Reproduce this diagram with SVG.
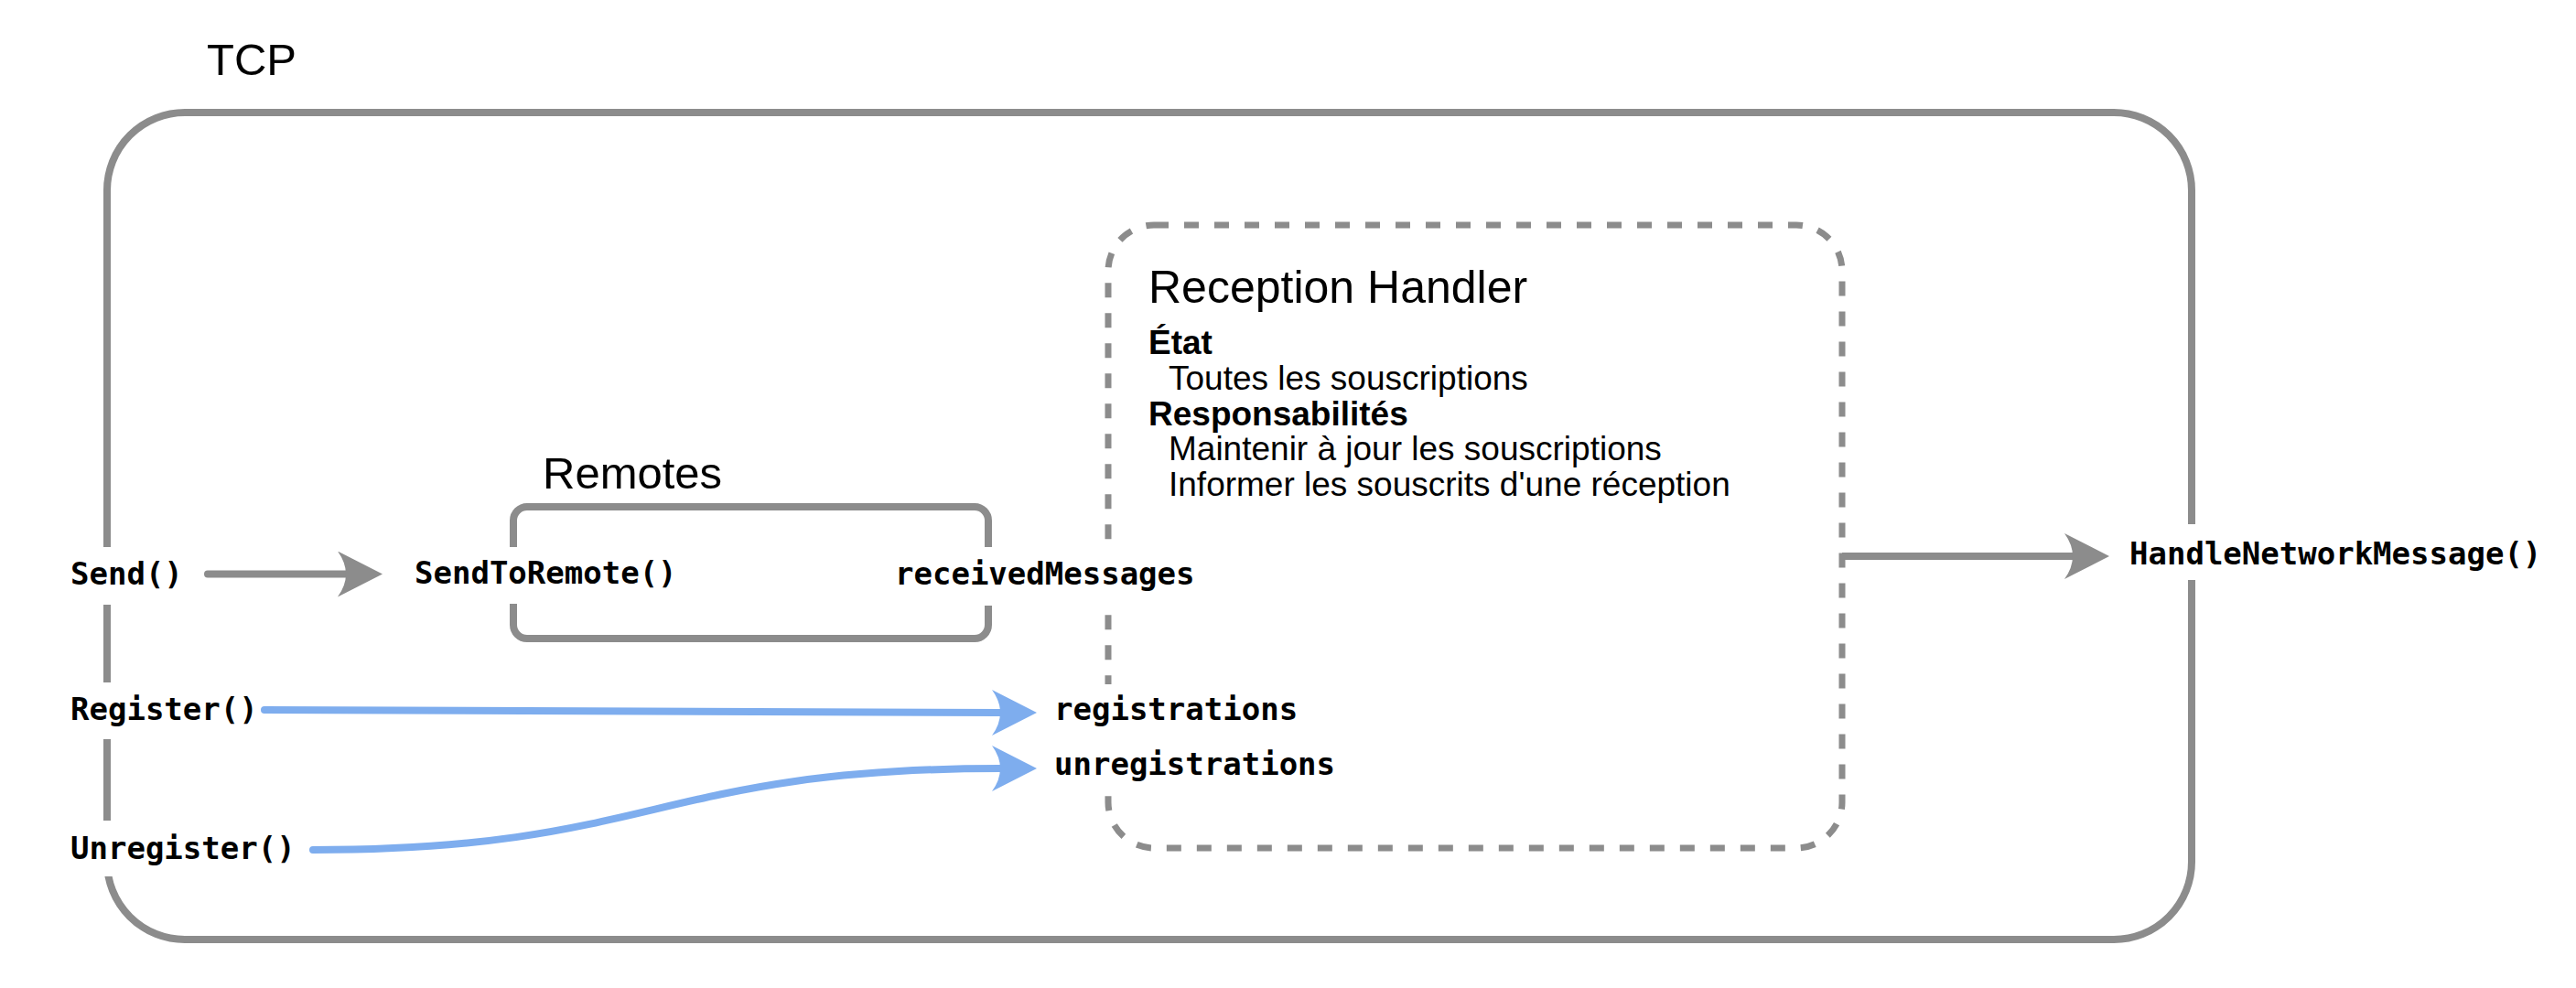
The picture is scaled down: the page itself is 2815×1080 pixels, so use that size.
<svg xmlns="http://www.w3.org/2000/svg" width="2815" height="1080" viewBox="0 0 2815 1080">
<style>
.box{fill:none;stroke:#8c8c8c;stroke-width:8}
.dash{fill:none;stroke:#8c8c8c;stroke-width:7;stroke-dasharray:16 17}
.bg{fill:#ffffff;stroke:none}
.title{font-family:"Liberation Sans",Arial,sans-serif;fill:#000;font-size:49px}
.body{font-family:"Liberation Sans",Arial,sans-serif;fill:#000;font-size:37px}
.bold{font-weight:bold}
.mono{font-family:"DejaVu Sans Mono","Liberation Mono",monospace;font-weight:bold;font-size:34px;fill:#000}
.gline{fill:none;stroke:#8c8c8c;stroke-width:8;stroke-linecap:round}
.bline{fill:none;stroke:#7eadee;stroke-width:8;stroke-linecap:round}
</style>
<defs>
<marker id="ahg" viewBox="0 0 49 50" markerWidth="49" markerHeight="50" refX="9" refY="25" orient="auto" markerUnits="userSpaceOnUse">
<path d="M49,25 L0,0 Q18,25 0,50 Z" fill="#8c8c8c"/>
</marker>
<marker id="ahb" viewBox="0 0 49 50" markerWidth="49" markerHeight="50" refX="9" refY="25" orient="auto" markerUnits="userSpaceOnUse">
<path d="M49,25 L0,0 Q18,25 0,50 Z" fill="#7eadee"/>
</marker>
</defs>
<rect width="2815" height="1080" fill="#ffffff"/>

<g id="tcp">
<rect class="box" x="117" y="123" width="2278" height="904" rx="85" ry="85"/>
<text class="title" x="226" y="82">TCP</text>
</g>

<g id="remotes">
<rect class="box" x="561" y="554" width="519" height="144" rx="15" ry="15"/>
<text class="title" x="593" y="534">Remotes</text>
</g>

<g id="reception-handler">
<rect class="dash" x="1211" y="246" width="802" height="681" rx="50" ry="50"/>
<text class="title" x="1255" y="331" style="font-size:50px">Reception Handler</text>
<text class="body bold" x="1255" y="387">État</text>
<text class="body" x="1277" y="426">Toutes les souscriptions</text>
<text class="body bold" x="1255" y="465">Responsabilités</text>
<text class="body" x="1277" y="503">Maintenir à jour les souscriptions</text>
<text class="body" x="1277" y="542">Informer les souscrits d'une réception</text>
</g>

<g id="send">
<rect class="bg" x="70" y="598" width="135" height="63"/>
<text class="mono" x="77" y="639">Send()</text>
</g>
<g id="register">
<rect class="bg" x="70" y="746" width="212" height="62"/>
<text class="mono" x="77" y="787">Register()</text>
</g>
<g id="unregister">
<rect class="bg" x="70" y="897" width="258" height="61"/>
<text class="mono" x="77" y="939">Unregister()</text>
</g>
<g id="send-to-remote">
<rect class="bg" x="445" y="598" width="300" height="62"/>
<text class="mono" x="453" y="638">SendToRemote()</text>
</g>
<g id="received-messages">
<rect class="bg" x="970" y="598" width="345" height="64"/>
<text class="mono" x="978" y="639">receivedMessages</text>
</g>
<g id="registrations">
<rect class="bg" x="1145" y="748" width="325" height="62"/>
<text class="mono" x="1152" y="787">registrations</text>
</g>
<g id="unregistrations">
<rect class="bg" x="1145" y="810" width="325" height="60"/>
<text class="mono" x="1152" y="847">unregistrations</text>
</g>
<g id="handle-network-message">
<rect class="bg" x="2320" y="573" width="465" height="61"/>
<text class="mono" x="2327" y="617">HandleNetworkMessage()</text>
</g>

<g id="connectors">
<path class="gline" d="M227,627.5 L378,627.5" marker-end="url(#ahg)"/>
<path class="gline" style="stroke-linecap:butt" d="M2013,608 L2265,608" marker-end="url(#ahg)"/>
<path class="bline" d="M289,776 C700,776 700,779 1093,779" marker-end="url(#ahb)"/>
<path class="bline" d="M342,929 C716,929 716,840 1093,840" marker-end="url(#ahb)"/>
</g>
</svg>
